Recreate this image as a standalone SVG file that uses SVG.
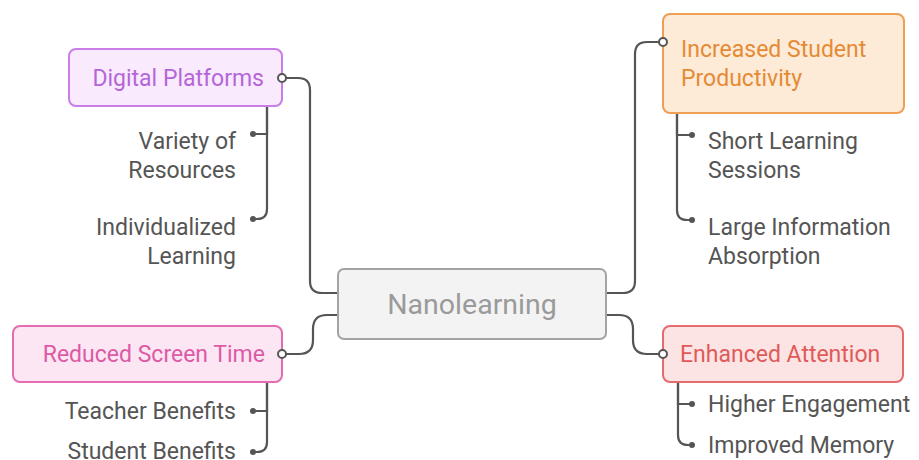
<svg xmlns="http://www.w3.org/2000/svg" width="919" height="460" viewBox="0 0 919 460">
  <style>
    text { font-family: Roboto, "Liberation Sans", sans-serif; }
    .node rect { stroke-width: 2; }
    .lbl { font-size: 23px; }
    .sub { font-size: 23px; fill: #555555; }
    .conn path { fill: none; stroke: #555555; stroke-width: 2.2; stroke-linecap: round; }
    .dot { fill: #555555; }
    .port { fill: #ffffff; stroke: #555555; stroke-width: 2; }
  </style>
  <rect width="919" height="460" fill="#ffffff"/>

  <!-- connectors -->
  <g id="connectors" class="conn">
    <!-- centre to main topics -->
    <path d="M338,293 H322 Q310,293 310,281 V90 Q310,78 298,78 H282"/>
    <path d="M338,315 H327 Q313,315 313,329 V340 Q313,354 299,354 H282"/>
    <path d="M606,293 H623 Q635,293 635,281 V54 Q635,42 647,42 H663"/>
    <path d="M606,315 H619 Q633,315 633,329 V340 Q633,354 647,354 H663"/>
    <!-- Digital Platforms branches -->
    <path d="M267,106 V134 H253"/>
    <path d="M267,106 V209 Q267,219 257,219 H253"/>
    <!-- Reduced Screen Time branches -->
    <path d="M267,382 V411 H253"/>
    <path d="M267,382 V442 Q267,452 257,452 H253"/>
    <!-- Increased Student Productivity branches -->
    <path d="M677,113 V135 H692"/>
    <path d="M677,113 V210 Q677,220 687,220 H692"/>
    <!-- Enhanced Attention branches -->
    <path d="M678,382 V404 H692"/>
    <path d="M678,382 V435 Q678,445 688,445 H692"/>
    <!-- branch end dots -->
    <circle class="dot" cx="253" cy="134" r="3"/>
    <circle class="dot" cx="253" cy="219" r="3"/>
    <circle class="dot" cx="253" cy="411" r="3"/>
    <circle class="dot" cx="253" cy="452" r="3"/>
    <circle class="dot" cx="692" cy="135" r="3"/>
    <circle class="dot" cx="692" cy="220" r="3"/>
    <circle class="dot" cx="692" cy="404" r="3"/>
    <circle class="dot" cx="692" cy="445" r="3"/>
  </g>

  <!-- central topic -->
  <g id="nanolearning" class="node">
    <rect x="338" y="269" width="268" height="70" rx="6" fill="#f3f3f3" stroke="#a3a3a3"/>
    <text x="472" y="314" text-anchor="middle" font-size="28.5" fill="#9a9a9a">Nanolearning</text>
  </g>

  <!-- Digital Platforms -->
  <g id="digital-platforms" class="node">
    <rect x="69" y="49" width="213" height="57" rx="7" fill="#f9ebfd" stroke="#c97de6"/>
    <text class="lbl" x="264" y="86" text-anchor="end" fill="#b565d9">Digital Platforms</text>
    <circle class="port" cx="282" cy="78" r="4"/>
  </g>
  <g id="variety-of-resources">
    <text class="sub" x="236" text-anchor="end"><tspan x="236" y="149">Variety of</tspan><tspan x="236" y="178">Resources</tspan></text>
  </g>
  <g id="individualized-learning">
    <text class="sub" x="236" text-anchor="end"><tspan x="236" y="235">Individualized</tspan><tspan x="236" y="264">Learning</tspan></text>
  </g>

  <!-- Reduced Screen Time -->
  <g id="reduced-screen-time" class="node">
    <rect x="13" y="326" width="269" height="56" rx="7" fill="#fde6f3" stroke="#e46db2"/>
    <text class="lbl" x="265" y="362" text-anchor="end" fill="#dc5aa5">Reduced Screen Time</text>
    <circle class="port" cx="282" cy="354" r="4"/>
  </g>
  <g id="teacher-benefits">
    <text class="sub" x="236" y="419" text-anchor="end">Teacher Benefits</text>
  </g>
  <g id="student-benefits">
    <text class="sub" x="236" y="459" text-anchor="end">Student Benefits</text>
  </g>

  <!-- Increased Student Productivity -->
  <g id="increased-student-productivity" class="node">
    <rect x="663" y="14" width="241" height="99" rx="7" fill="#fdebd8" stroke="#ee9e55"/>
    <text class="lbl" fill="#e58a34"><tspan x="681" y="57">Increased Student</tspan><tspan x="681" y="86">Productivity</tspan></text>
    <circle class="port" cx="663" cy="42" r="4"/>
  </g>
  <g id="short-learning-sessions">
    <text class="sub"><tspan x="708" y="149">Short Learning</tspan><tspan x="708" y="178">Sessions</tspan></text>
  </g>
  <g id="large-information-absorption">
    <text class="sub"><tspan x="708" y="235">Large Information</tspan><tspan x="708" y="264">Absorption</tspan></text>
  </g>

  <!-- Enhanced Attention -->
  <g id="enhanced-attention" class="node">
    <rect x="663" y="326" width="240" height="56" rx="7" fill="#fde4e4" stroke="#e56c6c"/>
    <text class="lbl" x="680" y="362" fill="#e05a5a">Enhanced Attention</text>
    <circle class="port" cx="663" cy="354" r="4"/>
  </g>
  <g id="higher-engagement">
    <text class="sub" x="708" y="412">Higher Engagement</text>
  </g>
  <g id="improved-memory">
    <text class="sub" x="708" y="453">Improved Memory</text>
  </g>
</svg>
